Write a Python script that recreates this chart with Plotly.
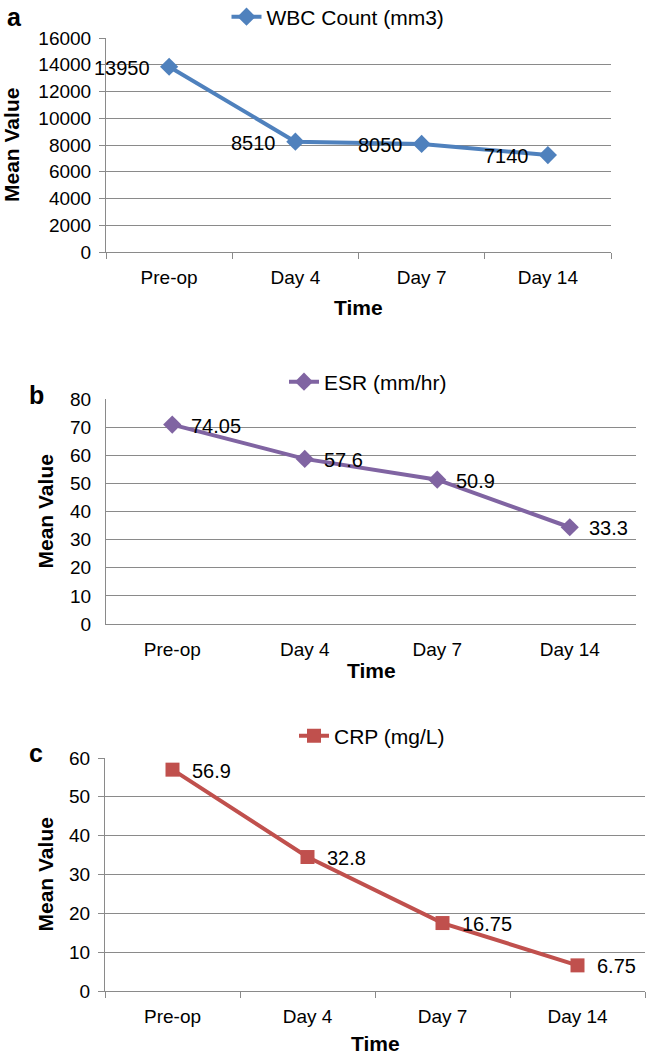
import plotly.graph_objects as go

# Data
times = ["Pre-op", "Day 4", "Day 7", "Day 14"]

wbc_values = [13850, 8250, 8080, 7250]
wbc_labels = ["13950", "8510", "8050", "7140"]

esr_values = [70.9, 58.7, 51.3, 34.4]
esr_labels = ["74.05", "57.6", "50.9", "33.3"]

crp_values = [57.0, 34.5, 17.5, 6.6]
crp_labels = ["56.9", "32.8", "16.75", "6.75"]

W, H = 646, 1061
FONT = "Liberation Sans, Arial, sans-serif"
GRID = "#8a8a8a"


def px(x):
    return x / W


def py(y):
    return 1 - y / H


fig = go.Figure()

########################################################
# Panel settings (pixel positions of each plot area)
########################################################
panels = [
    dict(key="", name="WBC Count (mm3)", values=wbc_values, labels=wbc_labels,
         color="#4f81bd", symbol="diamond", msize=14, label_side="left",
         left=106, right=611, top=38, bottom=252, ymax=16000, dtick=2000,
         ticks=True, legend_x=338, legend_y=17, letter="a", letter_xy=(14, 17),
         ytitle_x=12, xtitle_y=307),
    dict(key="2", name="ESR (mm/hr)", values=esr_values, labels=esr_labels,
         color="#8064a2", symbol="diamond", msize=14, label_side="right",
         left=106, right=636, top=399, bottom=624, ymax=80, dtick=10,
         ticks=False, legend_x=368, legend_y=382, letter="b", letter_xy=(36, 395),
         ytitle_x=45, xtitle_y=670),
    dict(key="3", name="CRP (mg/L)", values=crp_values, labels=crp_labels,
         color="#c0504d", symbol="square", msize=14, label_side="right",
         left=105, right=645, top=758, bottom=991, ymax=60, dtick=10,
         ticks=True, legend_x=372, legend_y=736, letter="c", letter_xy=(36, 753),
         ytitle_x=45, xtitle_y=1043),
]

annotations = []
layout_axes = {}

for p in panels:
    k = p["key"]
    fig.add_trace(go.Scatter(
        x=times, y=p["values"], name=p["name"], showlegend=True,
        mode="lines+markers",
        line=dict(color=p["color"], width=4),
        marker=dict(symbol=p["symbol"], size=p["msize"], color=p["color"]),
        xaxis="x" + k, yaxis="y" + k, legend="legend" + k,
        cliponaxis=False, hoverinfo="x+y",
    ))

    # data labels placed beside each point
    for t, v, lab in zip(times, p["values"], p["labels"]):
        left = p["label_side"] == "left"
        annotations.append(dict(
            text=lab, x=t, y=v, xref="x" + k, yref="y" + k,
            xanchor="right" if left else "left", yanchor="middle",
            xshift=-17 if left else 17, yshift=-1, showarrow=False,
            font=dict(size=20, color="black", family=FONT),
        ))

    tick_kind = "outside" if p["ticks"] else ""
    layout_axes["xaxis" + k] = dict(
        domain=[px(p["left"]), px(p["right"])], anchor="y" + k,
        type="category", categoryorder="array", categoryarray=times,
        range=[-0.5, 3.5], showgrid=False, zeroline=False,
        showline=True, linecolor=GRID, linewidth=1,
        ticks=tick_kind, tickson="boundaries", ticklen=6, tickcolor=GRID,
        tickfont=dict(size=19, color="black", family=FONT),
        ticklabelstandoff=8,
    )
    layout_axes["yaxis" + k] = dict(
        domain=[py(p["bottom"]), py(p["top"])], anchor="x" + k,
        range=[0, p["ymax"]], dtick=p["dtick"], tickformat="d",
        showgrid=True, gridcolor=GRID,
        gridwidth=1, zeroline=False, showline=True, linecolor=GRID, linewidth=1,
        ticks=tick_kind, ticklen=6, tickcolor=GRID,
        tickfont=dict(size=19, color="black", family=FONT),
        ticklabelstandoff=4 if p["ticks"] else 10,
    )
    layout_axes["legend" + k] = dict(
        x=px(p["legend_x"]), y=py(p["legend_y"]), xanchor="center", yanchor="middle",
        orientation="h", bgcolor="rgba(0,0,0,0)", visible=True,
        font=dict(size=21, color="black", family=FONT),
    )

    annotations.append(dict(
        text="<b>Time</b>", x=px((p["left"] + p["right"]) / 2), y=py(p["xtitle_y"]),
        xref="paper", yref="paper", xanchor="center", yanchor="middle", showarrow=False,
        font=dict(size=21, color="black", family=FONT),
    ))
    annotations.append(dict(
        text="<b>Mean Value</b>", x=px(p["ytitle_x"]), y=py((p["top"] + p["bottom"]) / 2),
        xref="paper", yref="paper", xanchor="center", yanchor="middle",
        showarrow=False, textangle=-90,
        font=dict(size=21, color="black", family=FONT),
    ))
    annotations.append(dict(
        text="<b>" + p["letter"] + "</b>", x=px(p["letter_xy"][0]), y=py(p["letter_xy"][1]),
        xref="paper", yref="paper", xanchor="center", yanchor="middle", showarrow=False,
        font=dict(size=25, color="black", family=FONT),
    ))

fig.update_layout(
    width=W, height=H, showlegend=True,
    margin=dict(l=0, r=0, t=0, b=0, autoexpand=False),
    paper_bgcolor="white", plot_bgcolor="white",
    font=dict(family=FONT, color="black"),
    annotations=annotations,
    **layout_axes,
)

# drop the default page margin so the figure sits at the window corner
fig.write_html("out.html", config={"displayModeBar": False},
               post_script="document.body.style.margin='0';")
